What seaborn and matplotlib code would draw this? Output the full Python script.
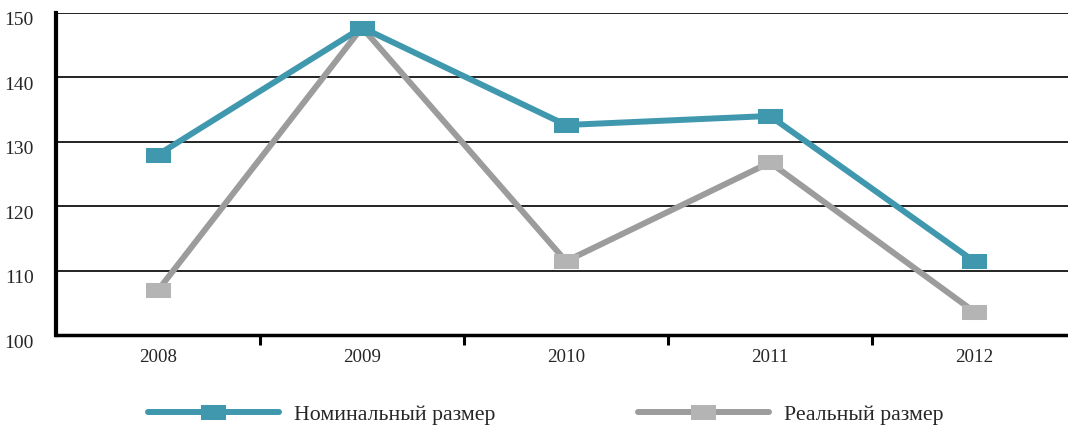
import matplotlib
matplotlib.use("Agg")
import matplotlib.pyplot as plt
import matplotlib.transforms as mtransforms
from matplotlib.path import Path
from matplotlib.ticker import FixedLocator
import pandas as pd
import seaborn as sns

# -- data --------------------------------------------------------------------

YEARS = ["2008", "2009", "2010", "2011", "2012"]
NOMINAL = [128.0, 147.7, 132.6, 134.0, 111.5]
REAL = [107.0, 147.7, 111.5, 126.8, 103.7]
NOMINAL_LABEL = "Номинальный размер"
REAL_LABEL = "Реальный размер"
Y_TICKS = [100, 110, 120, 130, 140, 150]

# -- style -------------------------------------------------------------------

TEAL = "#3F98AE"
GRAY_LINE = "#9C9C9C"
GRAY_MARK = "#B4B4B4"
RECT = Path([(-1, -0.6), (1, -0.6), (1, 0.6), (-1, 0.6), (-1, -0.6)],
            closed=True)

sns.set_style("white")
plt.rcParams["font.family"] = ["Liberation Serif", "DejaVu Serif"]


def main():
    df = pd.DataFrame({"year": YEARS, "nominal": NOMINAL, "real": REAL})

    fig = plt.figure(figsize=(10.68, 4.27), dpi=100)
    ax = fig.add_axes([56 / 1068, 0.212, 1020 / 1068, 0.756])

    sns.lineplot(data=df, x="year", y="real", ax=ax, color=GRAY_LINE,
                 linewidth=4.3, marker=RECT, markersize=17,
                 markerfacecolor=GRAY_MARK, markeredgecolor=GRAY_MARK,
                 label=REAL_LABEL, zorder=3)
    sns.lineplot(data=df, x="year", y="nominal", ax=ax, color=TEAL,
                 linewidth=4.3, marker=RECT, markersize=17,
                 markerfacecolor=TEAL, markeredgecolor=TEAL,
                 label=NOMINAL_LABEL, zorder=4)

    ax.set_xlim(-0.5, 4.5)
    ax.set_ylim(100, 150)
    ax.set_yticks(Y_TICKS)
    ax.grid(axis="y", color="#111111", linewidth=1.3)
    ax.set_axisbelow(True)
    ax.set_xlabel("")
    ax.set_ylabel("")

    for side in ("top", "right"):
        ax.spines[side].set_visible(False)
    ax.spines["left"].set_linewidth(3.0)
    ax.spines["bottom"].set_linewidth(2.5)
    ax.spines["left"].set_color("black")
    ax.spines["bottom"].set_color("black")

    ax.xaxis.set_minor_locator(FixedLocator([0.5, 1.5, 2.5, 3.5]))
    ax.tick_params(axis="x", which="major", length=0, pad=9, labelsize=13.6)
    ax.tick_params(axis="x", which="minor", length=7, width=2.2,
                   color="black", direction="out", bottom=True)
    ax.tick_params(axis="y", length=0, pad=16, labelsize=14)

    # y labels sit a little below their gridlines, as in the original
    shift = mtransforms.ScaledTranslation(0, -5 / 100, fig.dpi_scale_trans)
    for lab in ax.get_yticklabels():
        lab.set_transform(lab.get_transform() + shift)

    ax.get_legend().remove()
    handles, labels = ax.get_legend_handles_labels()
    fig.legend(handles[::-1], labels[::-1], loc="center left", ncol=2,
               bbox_to_anchor=(148 / 1068, 0.028), frameon=False,
               fontsize=15.7, handlelength=6.0, handletextpad=0.69,
               columnspacing=6.55, numpoints=1, borderpad=0,
               borderaxespad=0)

    fig.savefig("out.png", dpi=100)


if __name__ == "__main__":
    main()
